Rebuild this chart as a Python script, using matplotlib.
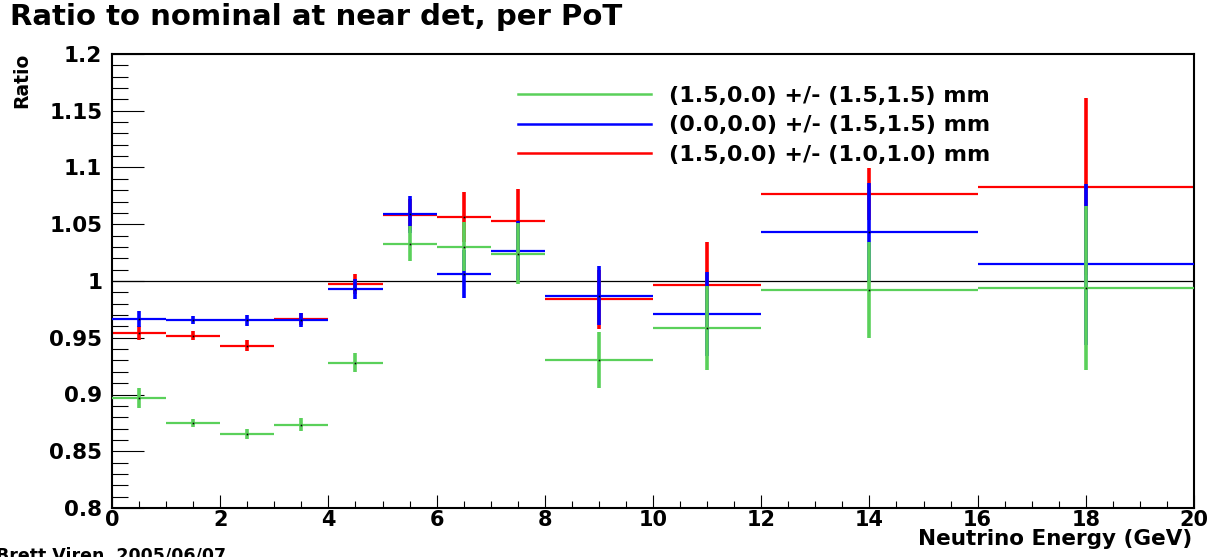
import matplotlib
matplotlib.use("Agg")
import matplotlib.pyplot as plt
from matplotlib.lines import Line2D
from matplotlib.ticker import MultipleLocator, FuncFormatter
import numpy as np

plt.rcParams['font.family'] = ['DejaVu Sans']

# ---- data ----
bin_lo = [0, 1, 2, 3, 4, 5, 6, 7, 8, 10, 12, 16]
bin_hi = [1, 2, 3, 4, 5, 6, 7, 8, 10, 12, 16, 20]

green_val = [0.897, 0.875, 0.865, 0.8735, 0.928, 1.033, 1.030, 1.024, 0.930, 0.959, 0.992, 0.994]
green_err = [0.009, 0.0035, 0.0043, 0.0054, 0.0085, 0.0154, 0.0216, 0.027, 0.0247, 0.037, 0.042, 0.072]

blue_val = [0.9665, 0.9654, 0.9654, 0.9656, 0.993, 1.0587, 1.0059, 1.0267, 0.9868, 0.9712, 1.0432, 1.0147]
blue_err = [0.0069, 0.0037, 0.0048, 0.0059, 0.0088, 0.016, 0.021, 0.026, 0.026, 0.037, 0.043, 0.071]

red_val = [0.954, 0.9518, 0.943, 0.9665, 0.9974, 1.0579, 1.0564, 1.0529, 0.9841, 0.9962, 1.0767, 1.0831]
red_err = [0.006, 0.0038, 0.0047, 0.005, 0.0085, 0.014, 0.0217, 0.028, 0.026, 0.038, 0.0226, 0.078]

labels = ["(1.5,0.0) +/- (1.5,1.5) mm",
          "(0.0,0.0) +/- (1.5,1.5) mm",
          "(1.5,0.0) +/- (1.0,1.0) mm"]

GREEN = '#5ad05a'
BLUE = '#0000ff'
RED = '#ff0000'

W, H = 1214, 557
fig = plt.figure(figsize=(W / 100, H / 100), dpi=100)
ax = fig.add_axes([112 / W, 49 / H, 1082 / W, 454 / H])

lo = np.array(bin_lo, float)
hi = np.array(bin_hi, float)
xc = (lo + hi) / 2

ax.axhline(1.0, color='black', lw=0.9, zorder=1)

for vals, errs, col, z in [(red_val, red_err, RED, 2),
                           (blue_val, blue_err, BLUE, 3),
                           (green_val, green_err, GREEN, 4)]:
    v = np.array(vals)
    e = np.array(errs)
    ax.hlines(v, lo, hi, colors=col, lw=1.6, zorder=z)
    ax.vlines(xc, v - e, v + e, colors=col, lw=2.6, zorder=z)
    ax.plot(xc, v, ls='none', marker='s', ms=1.2, color='black', mew=0, zorder=z + 0.5)

ax.set_xlim(0, 20)
ax.set_ylim(0.8, 1.2)

ax.xaxis.set_major_locator(MultipleLocator(2))
ax.xaxis.set_minor_locator(MultipleLocator(0.5))
ax.yaxis.set_major_locator(MultipleLocator(0.05))
ax.yaxis.set_minor_locator(MultipleLocator(0.01))
fmt = FuncFormatter(lambda v, p: "%g" % round(v, 4))
ax.xaxis.set_major_formatter(fmt)
ax.yaxis.set_major_formatter(fmt)

ax.tick_params(axis='x', which='major', direction='in', length=9.4, width=0.8,
               pad=1.5, labelsize=15, top=False)
ax.tick_params(axis='x', which='minor', direction='in', length=5, width=0.8, top=False)
ax.tick_params(axis='y', which='major', direction='in', length=23, width=0.8,
               pad=7, labelsize=15.5, right=False)
ax.tick_params(axis='y', which='minor', direction='in', length=11.5, width=0.8, right=False)
for lab in ax.get_xticklabels() + ax.get_yticklabels():
    lab.set_fontweight('bold')

for s in ax.spines.values():
    s.set_linewidth(1.5)

# legend
handles = [Line2D([], [], color=GREEN, lw=1.8),
           Line2D([], [], color=BLUE, lw=1.8),
           Line2D([], [], color=RED, lw=1.8)]
leg = ax.legend(handles, labels, loc='upper left',
                bbox_to_anchor=((518 - 112) / 1082, (508 - 86) / 454),
                frameon=False, borderpad=0, borderaxespad=0,
                handlelength=6.0, handletextpad=0.8, labelspacing=0.42,
                prop={'size': 16, 'weight': 'bold'})

# texts
fig.text(10 / W, 1 - 25 / H, "Ratio to nominal at near det, per PoT",
         fontsize=21, fontweight='bold', ha='left', va='baseline')
fig.text(22 / W, 1 - 53 / H, "Ratio", rotation=90, fontsize=13.5,
         fontweight='bold', ha='center', va='top')
fig.text(1192 / W, 1 - 545 / H, "Neutrino Energy (GeV)", fontsize=15.5,
         fontweight='bold', ha='right', va='baseline')
fig.text(-4 / W, 1 - 560 / H, "Brett Viren  2005/06/07", fontsize=12.5,
         fontweight='bold', ha='left', va='baseline')

fig.savefig("out.png", dpi=100)
